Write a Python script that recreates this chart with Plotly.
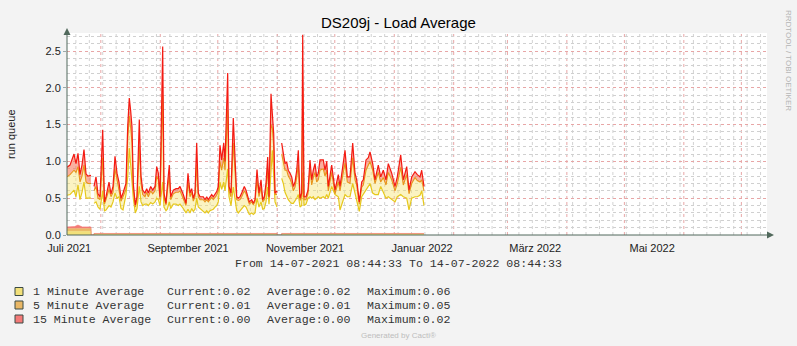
import plotly.graph_objects as go
import pandas as pd

# ---------------- data ----------------
START = pd.Timestamp("2021-07-14 08:44:33")
END = pd.Timestamp("2022-07-14 08:44:33")

# sample positions, days after START (None = gap in the data)
days = [0, 1.56, 3.65, 4.69, 5.74, 6.78, 7.82, 8.86, 9.91, 10.95, 12.51, None,
        14.08, 15.12, 16.16, 17.21, 18.61, 19.55, 20.34, 21.90, 22.94, 23.99, 25.03, 26.07,
        27.11, 28.16, 29.20, 30.76, 31.65, 32.48, 33.22, 33.89, 34.57, 35.61, 36.50, 37.70,
        38.59, 39.47, 40.67, 41.56, 42.39, 43.64, 44.69, 45.89, 46.77, 47.61, 48.49, 49.90,
        50.58, 51.62, 52.30, 53.34, 54.07, 55.43, 56.84, 58.04, 58.92, 60.64, 62.05, 63.09,
        64.14, 65.02, 65.86, 66.74, 67.63, 68.46, 69.35, 71.07, 71.96, 72.84, 73.68, 74.56,
        75.45, 76.28, 77.17, 78.06, 78.89, 79.78, 80.66, 81.71, 82.38, 83.27, 83.79, 84.47,
        85.51, 86.71, 87.60, 88.49, 89.32, 90.21, 91.09, 92.45, 93.34, 94.22, 95.06, 96.31,
        97.14, 98.03, 99.07, 100.11, 101.16, 102.04, 102.88, 103.76, 104.65, 105.33, 106.37,
        107.05, 107.78, 108.46, 109.50, None,
        111.95, 112.79, 113.67, 114.56, 115.39, 116.28, 117.17, 118.00, 118.89, 119.77,
        120.61, 121.49, 122.38, 122.90, 123.58, 124.62, 125.67, 126.71, 127.60, 128.43,
        129.32, 130.20, 131.04, 131.92, 133.64, 134.53, 135.42, 136.25, 138.02, 139.75,
        141.47, 142.35, 144.07, 144.96, 146.16, 147.56, 148.97, 150.17, 151.06, 152.41,
        153.67, 154.50, 155.91, 157.11, 157.99, 159.40, 160.60, 162.32, 163.57, 164.93,
        166.33, 167.53, 169.31, 171.03, 172.23, 174.00, 175.36, 177.13, 178.33, 179.74,
        181.46, 182.66, 184.07, 184.95, 186.15]

red_line = [.92, .95, 1.10, .97, 1.11, .82, .95, 1.16, .83, .80, .81, None,
            .66, .79, .56, .52, 1.43, .45, .52, .72, .56, .66, 1.07, .84,
            .72, .50, .57, .70, 1.47, 1.86, 1.68, 1.47, .70, .41, .52, 1.57,
            .80, .61, .57, .63, .57, .66, .61, .66, .93, .84, .52, 2.56,
            .57, .43, .66, .95, .52, .61, .63, .63, .66, .55, .43, .84,
            .57, .63, .50, .57, 1.25, .57, .52, .52, .48, .52, .48, .52,
            .55, .52, .55, .59, .66, 1.22, 1.02, 1.25, 1.00, 1.70, 2.20, .66,
            .57, 1.59, .97, .52, .50, .52, .57, .66, .61, .52, .45, .48,
            .43, .48, .89, .57, .75, .48, .52, .70, 1.06, .52, 1.92,
            1.65, 1.38, .57, .60, None,
            1.25, 1.11, .97, .99, .88, .84, .79, .66, .72, .88,
            1.15, .50, .57, 2.72, .52, .52, .61, 1.02, .75, .88,
            .97, .79, .84, 1.02, 1.02, .88, 1.00, .66, .95, .61,
            .82, .66, 1.02, 1.15, .79, .79, 1.25, .84, .75, .45,
            .72, .75, 1.02, 1.05, 1.13, .97, .75, .95, .79, .88,
            .75, .97, .84, .66, .79, 1.09, .75, .93, .61, .79,
            .86, .82, .79, .88, .66]

orange_line = [.79, .82, .88, .85, .93, .72, .80, .95, .72, .70, .70, None,
               .60, .66, .50, .48, 1.05, .42, .48, .62, .52, .58, .90, .75,
               .65, .46, .52, .62, 1.30, 1.62, 1.45, 1.25, .62, .38, .48, 1.20,
               .70, .55, .52, .58, .52, .60, .56, .60, .80, .75, .48, 1.90,
               .50, .41, .60, .80, .48, .56, .58, .58, .60, .50, .40, .72,
               .52, .58, .46, .52, .95, .52, .48, .48, .45, .48, .45, .48,
               .51, .48, .51, .54, .60, 1.00, .88, 1.05, .88, 1.35, 1.70, .60,
               .52, 1.25, .82, .48, .47, .48, .52, .60, .56, .48, .42, .45,
               .41, .45, .75, .52, .65, .45, .48, .62, .90, .50, 1.50,
               1.45, 1.20, .55, .55, None,
               1.10, .98, .88, .88, .80, .76, .70, .60, .65, .78,
               .95, .47, .52, 2.00, .48, .48, .56, .90, .68, .78,
               .85, .72, .75, .88, .90, .80, .88, .60, .85, .56,
               .72, .60, .88, .98, .72, .70, 1.05, .75, .68, .42,
               .65, .68, .88, .95, 1.00, .88, .70, .85, .72, .78,
               .68, .85, .75, .60, .70, .92, .68, .82, .56, .70,
               .78, .74, .72, .75, .60]

yellow_line = [.54, .55, .61, .52, .68, .48, .58, .72, .50, .50, .50, None,
               .43, .45, .38, .35, .60, .33, .34, .40, .38, .45, .57, .50,
               .52, .36, .34, .55, .79, 1.18, .95, .70, .50, .30, .36, .66,
               .45, .40, .42, .42, .40, .44, .42, .45, .50, .48, .40, .72,
               .38, .33, .35, .45, .36, .42, .42, .40, .42, .36, .30, .35,
               .30, .36, .32, .35, .50, .38, .36, .33, .30, .33, .30, .33,
               .34, .35, .38, .40, .45, .72, .62, .72, .60, .80, .90, .52,
               .40, .65, .50, .33, .30, .33, .36, .40, .38, .32, .28, .30,
               .28, .30, .50, .38, .45, .35, .36, .45, .65, .42, .85,
               1.15, .80, .45, .38, None,
               .77, .70, .58, .52, .48, .45, .43, .43, .46, .50,
               .55, .38, .40, .85, .40, .42, .50, .52, .50, .52,
               .48, .50, .52, .50, .52, .50, .55, .50, .66, .55,
               .52, .34, .48, .55, .52, .52, .70, .55, .45, .32,
               .52, .55, .60, .66, .70, .57, .55, .55, .66, .57,
               .50, .52, .48, .45, .52, .55, .52, .50, .34, .50,
               .52, .52, .54, .60, .40]

# stacked averages drawn at the bottom
area_days = [0, 2, 4, 5.7, 8, 10, 12.51, 12.6, 13.95, 14.08, 25, 40, 50, 60, 62, 64,
             78, 80, 82, 95, 109.5, 109.6, 111.85, 111.95, 120, 122, 135, 150, 152,
             165, 175, 186.15]
area_1min = [.05, .05, .05, .05, .05, .05, .05, 0, 0, .012, .012, .012, .012, .012, .012, .012,
             .012, .012, .012, .012, .012, 0, 0, .012, .012, .012, .012, .012, .012,
             .012, .012, .012]
area_5min = [.04, .04, .04, .045, .04, .04, .04, 0, 0, .006, .006, .006, .006, .006, .006, .006,
             .006, .006, .006, .006, .006, 0, 0, .006, .006, .006, .006, .006, .006,
             .006, .006, .006]
area_15min = [.02, .02, .025, .04, .02, .02, .02, 0, 0, .003, .003, .003, .003, .003, .01, .003,
              .003, .009, .003, .003, .003, 0, 0, .003, .009, .003, .003, .009, .003,
              .003, .003, .003]

legend_names = ["1 Minute Average", "5 Minute Average", "15 Minute Average"]
legend_current = ["Current:0.02", "Current:0.01", "Current:0.00"]
legend_average = ["Average:0.02", "Average:0.01", "Average:0.00"]
legend_maximum = ["Maximum:0.06", "Maximum:0.05", "Maximum:0.02"]
legend_colors = ["#F2E07A", "#E9B766", "#F47A78"]

y_ticks = [0, 0.5, 1.0, 1.5, 2.0, 2.5]
y_ticktext = ["0.0", "0.5", "1.0", "1.5", "2.0", "2.5"]
x_label_dates = ["2021-07-15 12:00", "2021-09-15 12:00", "2021-11-15 12:00",
                 "2022-01-15 12:00", "2022-03-15 12:00", "2022-05-15 12:00"]
x_label_text = ["Juli 2021", "September 2021", "November 2021",
                "Januar 2022", "März 2022", "Mai 2022"]
Y_MAX = 2.745

# ---------------- helpers ----------------
def to_dates(ds):
    return [None if d is None else START + pd.Timedelta(days=d) for d in ds]

def segments(xs, *ys):
    segs, cur = [], [[] for _ in range(len(ys) + 1)]
    for i, xv in enumerate(xs):
        if xv is None:
            segs.append(cur)
            cur = [[] for _ in range(len(ys) + 1)]
            continue
        cur[0].append(xv)
        for k, y in enumerate(ys):
            cur[k + 1].append(y[i])
    segs.append(cur)
    return segs

XA = to_dates(area_days)
month_starts = pd.date_range("2021-08-01", "2022-07-01", freq="MS")
week_starts = pd.date_range("2021-07-19", "2022-07-13", freq="7D")

L, T, W, H = 67, 33, 700, 202
def px(xp):
    return (xp - L) / W
def py(yp):
    return (T + H - yp) / H

SANS = "Liberation Sans, Arial, sans-serif"
MONO = "Liberation Mono, Courier New, monospace"
AXIS = "#51695C"

fig = go.Figure()

# bottom stacked areas
for vals, col in zip([area_1min, area_5min, area_15min], legend_colors):
    fig.add_trace(go.Scatter(x=XA, y=vals, stackgroup="avg", mode="lines",
                             line=dict(width=0.6, color=col), fillcolor=col,
                             hoverinfo="skip"))

# lines with fills in between (one set of traces per contiguous segment)
for sx, sy, so, sr in segments(days, yellow_line, orange_line, red_line):
    xd = to_dates(sx)
    fig.add_trace(go.Scatter(x=xd, y=sy, mode="lines",
                             line=dict(color="#E6C81C", width=1.2), hoverinfo="skip"))
    fig.add_trace(go.Scatter(x=xd, y=so, mode="lines", fill="tonexty",
                             fillcolor="rgba(246,228,120,0.45)",
                             line=dict(color="#E8961A", width=1.1), hoverinfo="skip"))
    fig.add_trace(go.Scatter(x=xd, y=sr, mode="lines", fill="tonexty",
                             fillcolor="rgba(246,110,80,0.55)",
                             line=dict(color="#F41A12", width=1.2), hoverinfo="skip"))

shapes = []
for wk in week_starts:
    shapes.append(dict(type="line", xref="x", yref="paper", x0=wk, x1=wk, y0=0, y1=1,
                       line=dict(color="#D2D2D2", width=1, dash="dot"), layer="between"))
for m in month_starts:
    shapes.append(dict(type="line", xref="x", yref="paper", x0=m, x1=m, y0=0, y1=1,
                       line=dict(color="#E8A6A6", width=1, dash="dot"), layer="between"))
# axis lines and arrows
shapes.append(dict(type="path", xref="paper", yref="paper", fillcolor=AXIS, line=dict(width=0),
                   path=f"M {px(63.5)},{py(35)} L {px(70.5)},{py(35)} L {px(67)},{py(28)} Z"))
shapes.append(dict(type="line", xref="paper", yref="paper", x0=px(67), x1=px(67), y0=py(235), y1=py(34),
                   line=dict(color=AXIS, width=1)))
shapes.append(dict(type="line", xref="paper", yref="paper", x0=px(67), x1=px(768), y0=py(235), y1=py(235),
                   line=dict(color=AXIS, width=1)))
shapes.append(dict(type="path", xref="paper", yref="paper", fillcolor=AXIS, line=dict(width=0),
                   path=f"M {px(767)},{py(231.5)} L {px(767)},{py(238.5)} L {px(774)},{py(235)} Z"))
ROWS = [291.5, 305, 319]
# legend squares
for i, col in enumerate(legend_colors):
    yc = ROWS[i]
    shapes.append(dict(type="rect", xref="paper", yref="paper",
                       x0=px(15), x1=px(23), y0=py(yc - 4), y1=py(yc + 4),
                       fillcolor=col, line=dict(color="#3B4A44", width=1)))

def note(text, xp, yp, font, xanchor="center", angle=0):
    return dict(text=text, xref="paper", yref="paper", x=px(xp), y=py(yp),
                xanchor=xanchor, yanchor="middle", textangle=angle,
                showarrow=False, font=font)

ann = [
    note("DS209j - Load Average", 398, 22.5, dict(family=SANS, size=15, color="#000")),
    note("run queue", 11, 134, dict(family=SANS, size=11, color="#222"), angle=-90),
    note("RRDTOOL / TOBI OETIKER", 789, 60, dict(family=SANS, size=8, color="#B5B5B5"), angle=90),
    note("From 14-07-2021 08:44:33 To 14-07-2022 08:44:33", 398.5, 263,
         dict(family=MONO, size=11.6, color="#333")),
    note("Generated by Cacti®", 398.5, 335, dict(family=SANS, size=8, color="#BDBDBD")),
]
for i in range(3):
    for xs, txt in zip([30.5, 165, 265, 365],
                       [legend_names[i], legend_current[i], legend_average[i], legend_maximum[i]]):
        ann.append(note(txt, xs, ROWS[i], dict(family=MONO, size=11.6, color="#333"),
                        xanchor="left"))

fig.update_layout(
    width=797, height=346,
    margin=dict(l=L, r=797 - L - W, t=T, b=346 - T - H, pad=0),
    paper_bgcolor="#F3F3F3", plot_bgcolor="#FFFFFF",
    showlegend=False,
    shapes=shapes, annotations=ann,
    xaxis=dict(type="date", range=[START, END], tickmode="array",
               tickvals=x_label_dates, ticktext=x_label_text, showgrid=False,
               ticks="outside", ticklen=3, tickcolor="rgba(0,0,0,0)",
               zeroline=False, showline=False,
               tickfont=dict(family=SANS, size=11, color="#222")),
    yaxis=dict(range=[0, Y_MAX], tickmode="array", tickvals=y_ticks, ticktext=y_ticktext,
               showgrid=True, gridcolor="#E8A6A6", griddash="dot", gridwidth=1,
               zeroline=False, showline=False, ticks="outside", ticklen=3, tickcolor="#9AA",
               tickfont=dict(family=SANS, size=11, color="#222"),
               minor=dict(dtick=0.1, tick0=0, showgrid=True, gridcolor="#D0D0D0",
                          griddash="dot", gridwidth=1)),
)

fig.write_html("out.html")
